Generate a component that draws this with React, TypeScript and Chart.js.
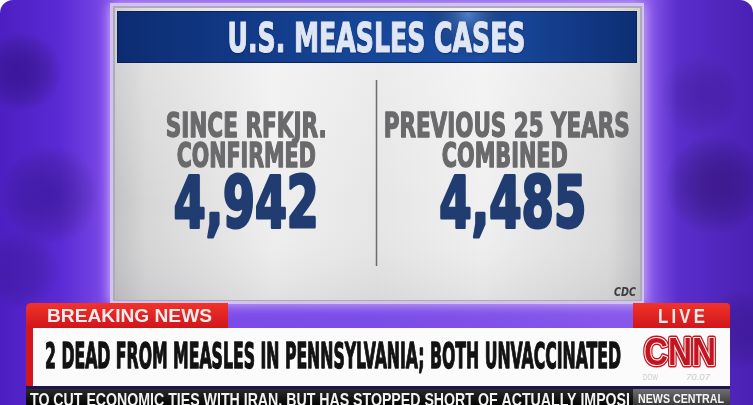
import React, { useEffect, useRef } from "react";
import { Chart, registerables } from "chart.js";

Chart.register(...registerables);

// ---- data ----
const chartTitle = "U.S. MEASLES CASES";
const categories: string[][] = [
  ["SINCE RFKJR.", "CONFIRMED"],
  ["PREVIOUS 25 YEARS", "COMBINED"],
];
const caseCounts: number[] = [4942, 4485];
const sourceLabel = "CDC";
const bannerTag = "BREAKING NEWS";
const liveTag = "LIVE";
const headline = "2 DEAD FROM MEASLES IN PENNSYLVANIA; BOTH UNVACCINATED";
const tickerText = "TO CUT ECONOMIC TIES WITH IRAN, BUT HAS STOPPED SHORT OF ACTUALLY IMPOSI";
const tickerTag = "NEWS CENTRAL";
const marketLabels: string[] = ["DOW", "70.07"];
const networkLogo = "CNN";

// ---- layout (sizes only) ----
const W = 753;
const H = 405;
const labelWidths = [
  [161, 139],
  [246, 126],
];
const labelOffsets = [
  [0, 0],
  [0, -2],
];
const numberWidths = [145, 147];
const numberOffsets = [0, 6];
const COND = "'DejaVu Sans Condensed', 'DejaVu Sans', sans-serif";
const SANS = "'Liberation Sans', Arial, sans-serif";

function drawFit(
  ctx: CanvasRenderingContext2D,
  text: string,
  x: number,
  y: number,
  font: string,
  width: number,
  color: string,
  align: CanvasTextAlign = "center",
  spacing = "0px",
  thicken = 0
) {
  ctx.save();
  ctx.font = font;
  (ctx as any).letterSpacing = spacing;
  const w = ctx.measureText(text).width;
  const sx = width / w;
  ctx.translate(x, y);
  ctx.scale(sx, 1);
  ctx.textAlign = align;
  ctx.textBaseline = "alphabetic";
  ctx.fillStyle = color;
  ctx.fillText(text, 0, 0);
  if (thicken > 0) {
    ctx.shadowColor = "rgba(0,0,0,0)";
    ctx.strokeStyle = color;
    ctx.lineJoin = "round";
    ctx.lineWidth = thicken;
    ctx.strokeText(text, 0, 0);
  }
  ctx.restore();
}

function radial(ctx: CanvasRenderingContext2D, x: number, y: number, r: number, color: string) {
  const g = ctx.createRadialGradient(x, y, 0, x, y, r);
  g.addColorStop(0, color);
  g.addColorStop(1, "rgba(0,0,0,0)");
  ctx.fillStyle = g;
  ctx.fillRect(x - r, y - r, r * 2, r * 2);
}

const broadcastPlugin = {
  id: "broadcast",
  beforeDraw(chart: any) {
    const ctx: CanvasRenderingContext2D = chart.ctx;
    const area = chart.chartArea;
    ctx.save();
    ctx.fillStyle = "#ffffff";
    ctx.fillRect(0, 0, W, H);
    ctx.beginPath();
    (ctx as any).roundRect(0, 0, W, H + 30, [13, 13, 0, 0]);
    ctx.clip();

    // purple backdrop
    const bg = ctx.createLinearGradient(0, 0, W, 0);
    bg.addColorStop(0, "#4c1fc2");
    bg.addColorStop(0.08, "#5a2ad4");
    bg.addColorStop(0.145, "#7d4ae8");
    bg.addColorStop(0.5, "#7a4ce8");
    bg.addColorStop(0.86, "#8858ea");
    bg.addColorStop(0.9, "#5a2ecc");
    bg.addColorStop(1, "#4a20b4");
    ctx.fillStyle = bg;
    ctx.fillRect(0, 0, W, H);
    radial(ctx, 22, 72, 40, "rgba(40,10,120,0.5)");
    radial(ctx, 50, 195, 50, "rgba(40,10,120,0.4)");
    radial(ctx, 20, 270, 40, "rgba(50,20,130,0.3)");
    radial(ctx, 715, 185, 50, "rgba(45,12,100,0.5)");
    radial(ctx, 700, 95, 40, "rgba(45,12,110,0.25)");
    radial(ctx, 740, 330, 40, "rgba(45,12,110,0.3)");

    // panel glow / rim
    ctx.save();
    ctx.shadowColor = "rgba(220,195,255,0.95)";
    ctx.shadowBlur = 12;
    ctx.fillStyle = "#d2c2f2";
    ctx.fillRect(110, 3, 534, 301);
    ctx.restore();
    ctx.fillStyle = "#aeaab8";
    ctx.fillRect(113, 6, 529, 295);
    const pg = ctx.createLinearGradient(115, 0, 640, 0);
    pg.addColorStop(0, "#c2c2c4");
    pg.addColorStop(0.06, "#d6d6d7");
    pg.addColorStop(0.3, "#efefef");
    pg.addColorStop(0.5, "#e6e6e6");
    pg.addColorStop(0.7, "#f0f0f0");
    pg.addColorStop(0.94, "#dcdcdc");
    pg.addColorStop(1, "#c4c4c6");
    ctx.fillStyle = pg;
    ctx.fillRect(115, 8, 525, 292);
    const pv = ctx.createLinearGradient(0, 60, 0, 300);
    pv.addColorStop(0, "rgba(255,255,255,0.25)");
    pv.addColorStop(0.6, "rgba(255,255,255,0)");
    pv.addColorStop(1, "rgba(120,120,130,0.12)");
    ctx.fillStyle = pv;
    ctx.fillRect(115, 8, 525, 292);

    // title bar
    ctx.fillStyle = "#0a2258";
    ctx.fillRect(117, 11, 520, 52);
    const tg = ctx.createLinearGradient(117, 0, 637, 0);
    tg.addColorStop(0, "#0c2c72");
    tg.addColorStop(0.45, "#164598");
    tg.addColorStop(0.7, "#1a4ca2");
    tg.addColorStop(1, "#0d2e74");
    ctx.fillStyle = tg;
    ctx.fillRect(118, 12, 518, 50);
    ctx.save();
    ctx.beginPath();
    ctx.rect(118, 12, 518, 50);
    ctx.clip();
    radial(ctx, 468, 14, 45, "rgba(120,170,240,0.55)");
    ctx.restore();
    const cx = (area.left + area.right) / 2;
    ctx.save();
    ctx.shadowColor = "rgba(0,0,30,0.6)";
    ctx.shadowBlur = 2;
    ctx.shadowOffsetY = 1;
    drawFit(ctx, chartTitle, cx, 52, `bold 41px ${COND}`, 298, "#dfe6f4", "center", "0px", 1.2);
    ctx.restore();

    // divider
    ctx.strokeStyle = "rgba(95,95,100,0.9)";
    ctx.lineWidth = 1.5;
    ctx.beginPath();
    ctx.moveTo(cx, 80);
    ctx.lineTo(cx, 266);
    ctx.stroke();

    // source
    drawFit(ctx, sourceLabel, 636, 296, `italic bold 13px ${COND}`, 22, "#3c3c40", "right");

    // ---- lower third ----
    const red = ctx.createLinearGradient(0, 303, 0, 328);
    red.addColorStop(0, "#f2332b");
    red.addColorStop(1, "#d0161b");
    ctx.fillStyle = red;
    ctx.beginPath();
    (ctx as any).roundRect(26, 303, 202, 30, [5, 0, 0, 0]);
    ctx.fill();
    ctx.fillStyle = "#d3171c";
    ctx.fillRect(26, 326, 7, 61);
    ctx.fillStyle = red;
    ctx.beginPath();
    (ctx as any).roundRect(633, 303, 97, 30, [0, 4, 0, 0]);
    ctx.fill();
    ctx.fillStyle = "#fbfbfb";
    ctx.fillRect(33, 328, 697, 58);
    ctx.fillStyle = "#1c1650";
    ctx.fillRect(26, 386, 704, 3);
    const tk = ctx.createLinearGradient(0, 389, 0, 405);
    tk.addColorStop(0, "#2a2a2a");
    tk.addColorStop(1, "#050505");
    ctx.fillStyle = tk;
    ctx.fillRect(26, 389, 607, 16);
    const nc = ctx.createLinearGradient(0, 389, 0, 405);
    nc.addColorStop(0, "#6e6e70");
    nc.addColorStop(1, "#3a3a3c");
    ctx.fillStyle = nc;
    ctx.fillRect(633, 389, 97, 16);

    drawFit(ctx, bannerTag, 47, 322, `bold 19px ${SANS}`, 165, "#f7ecec", "left");
    drawFit(ctx, liveTag, 658, 323, `bold 21px ${SANS}`, 50, "#f7ecec", "left", "4px");
    drawFit(ctx, headline, 45, 368, `bold 36px ${COND}`, 576, "#121212", "left", "0px", 1.3);

    // CNN logo
    ctx.save();
    ctx.font = `bold 38px ${SANS}`;
    const lw = ctx.measureText(networkLogo).width;
    ctx.translate(644, 365);
    ctx.scale(72 / lw, 1);
    ctx.lineJoin = "round";
    ctx.textAlign = "left";
    ctx.strokeStyle = "#c4141f";
    ctx.lineWidth = 5;
    ctx.strokeText(networkLogo, 0, 0);
    ctx.strokeStyle = "#ffffff";
    ctx.lineWidth = 2.2;
    ctx.strokeText(networkLogo, 0, 0);
    ctx.fillStyle = "#c4141f";
    ctx.fillText(networkLogo, 0, 0);
    ctx.restore();
    drawFit(ctx, marketLabels[0], 643, 380, `9px ${SANS}`, 15, "#cbcbcb", "left");
    drawFit(ctx, marketLabels[1], 686, 380, `italic 9px ${SANS}`, 24, "#cbcbcb", "left");

    // ticker text
    ctx.save();
    ctx.beginPath();
    ctx.rect(26, 389, 606, 16);
    ctx.clip();
    drawFit(ctx, tickerText, 30, 406, `bold 18px ${SANS}`, 600, "#f2f2f2", "left");
    ctx.restore();
    drawFit(ctx, tickerTag, 638, 403, `bold 12px ${SANS}`, 86, "#f4f4f4", "left");

    ctx.restore();
  },
  afterDatasetsDraw(chart: any) {
    const ctx: CanvasRenderingContext2D = chart.ctx;
    const meta = chart.getDatasetMeta(0);
    meta.data.forEach((bar: any, i: number) => {
      const x = bar.x;
      const lines = categories[i];
      drawFit(ctx, lines[0], x + labelOffsets[i][0], 137, `bold 34px ${COND}`, labelWidths[i][0], "#6a6a6c", "center", "0px", 1.4);
      drawFit(ctx, lines[1], x + labelOffsets[i][1], 167, `bold 34px ${COND}`, labelWidths[i][1], "#6a6a6c", "center", "0px", 1.4);
      const txt = caseCounts[i].toLocaleString("en-US");
      ctx.save();
      ctx.shadowColor = "rgba(0,0,0,0.25)";
      ctx.shadowBlur = 2;
      drawFit(ctx, txt, x + numberOffsets[i], 227, `bold 72px ${COND}`, numberWidths[i], "#203c70", "center", "0px", 3);
      ctx.restore();
    });
  },
};

export default function App() {
  const ref = useRef<HTMLCanvasElement | null>(null);
  useEffect(() => {
    if (!ref.current) return;
    const chart = new Chart(ref.current, {
      type: "bar",
      data: {
        labels: categories.map((c) => c.join(" ")),
        datasets: [
          {
            label: chartTitle,
            data: caseCounts,
            backgroundColor: "rgba(0,0,0,0)",
            borderWidth: 0,
          },
        ],
      },
      options: {
        animation: false,
        responsive: false,
        layout: { padding: { left: 116, right: 116, top: 80, bottom: 139 } },
        scales: {
          x: { display: false },
          y: { display: false, min: 0, max: 5000 },
        },
        plugins: {
          legend: { display: false },
          tooltip: { enabled: false },
          title: { display: false },
        },
      },
      plugins: [broadcastPlugin],
    });
    return () => chart.destroy();
  }, []);
  return (
    <div style={{ position: "absolute", left: 0, top: 0, width: W, height: H }}>
      <canvas ref={ref} width={W} height={H} style={{ display: "block" }} />
    </div>
  );
}
